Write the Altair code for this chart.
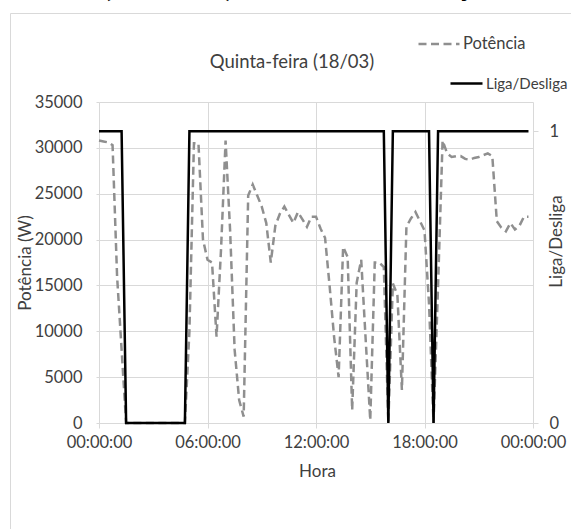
import altair as alt
import pandas as pd

# 15-minute samples over the day (hours)
hours = [i * 0.25 for i in range(96)]

potencia = [
    30800, 30700, 30600, 30300, 16000, 8000, 0, 0,
    0, 0, 0, 0, 0, 0, 0, 0,
    0, 0, 0, 0, 10000, 30500, 30500, 20000,
    17800, 17500, 9400, 19000, 30800, 21000, 8000, 2500,
    700, 24800, 26000, 24800, 23600, 21800, 17500, 21500,
    22800, 23600, 22700, 21800, 23000, 22200, 21400, 22500,
    22500, 21200, 20200, 15000, 9400, 5000, 19200, 18100,
    1400, 15300, 17800, 9000, 300, 17500, 17500, 17000,
    0, 15200, 14000, 3600, 21400, 22300, 23000, 22000,
    21000, 13000, 0, 15000, 30800, 29400, 29000, 29100,
    29100, 28800, 28700, 28900, 29000, 29200, 29400, 29100,
    22000, 21300, 20900, 21800, 21100, 21500, 22500, 22500,
]

liga = [
    1, 1, 1, 1, 1, 1, 0, 0,
    0, 0, 0, 0, 0, 0, 0, 0,
    0, 0, 0, 0, 1, 1, 1, 1,
    1, 1, 1, 1, 1, 1, 1, 1,
    1, 1, 1, 1, 1, 1, 1, 1,
    1, 1, 1, 1, 1, 1, 1, 1,
    1, 1, 1, 1, 1, 1, 1, 1,
    1, 1, 1, 1, 1, 1, 1, 1,
    0, 1, 1, 1, 1, 1, 1, 1,
    1, 1, 0, 1, 1, 1, 1, 1,
    1, 1, 1, 1, 1, 1, 1, 1,
    1, 1, 1, 1, 1, 1, 1, 1,
]

x_ticks = [0, 6, 12, 18, 24]
y_ticks = [0, 5000, 10000, 15000, 20000, 25000, 30000, 35000]
y2_ticks = [0, 1]

chart_title = "Quinta-feira (18/03)"
header_text = "(Sistema A) Potência e Comutação"
series_p = "Potência"
series_l = "Liga/Desliga"

df = pd.DataFrame({
    "hora": hours,
    "potencia": potencia,
    "liga": liga,
    "serie_p": series_p,
    "serie_l": series_l,
})

FONT = "Lato"
TXT = "#404040"
GRID = "#d9d9d9"
W, H = 434, 321

base = alt.Chart(df)

frame = alt.Chart(alt.Data(values=[{}])).mark_rect(
    fillOpacity=0, stroke=GRID, strokeWidth=1
).encode(
    x=alt.value(-88.5), x2=alt.value(480), y=alt.value(-88.5), y2=alt.value(440)
)

header = alt.Chart(alt.Data(values=[{"t": header_text}])).mark_text(
    align="left", baseline="alphabetic", font=FONT, fontWeight="bold",
    fontSize=26, color="#000000"
).encode(x=alt.value(5), y=alt.value(-105), text="t:N")

title = alt.Chart(alt.Data(values=[{"t": chart_title}])).mark_text(
    align="center", baseline="middle", font=FONT, fontSize=18.5, color=TXT
).encode(x=alt.value(193), y=alt.value(-40), text="t:N")

pot = base.mark_line(strokeWidth=2.5, strokeDash=[8, 4.5]).encode(
    x=alt.X(
        "hora:Q",
        scale=alt.Scale(domain=[0, 24], nice=False, zero=False),
        axis=alt.Axis(
            values=x_ticks,
            labelExpr="(datum.value % 24 < 10 ? '0' : '') + (datum.value % 24) + ':00:00'",
            title="Hora", grid=True, domain=True, ticks=True, tickSize=5,
            labelPadding=6, labelFlush=False, labelOverlap=False,
            titleX=218, titleY=48, titleBaseline="middle", titleAlign="center",
        ),
    ),
    y=alt.Y(
        "potencia:Q",
        scale=alt.Scale(domain=[0, 35000], nice=False),
        axis=alt.Axis(
            values=y_ticks, format="d", title="Potência (W)", grid=True,
            domain=False, ticks=True, tickSize=3, labelPadding=14,
            labelFlush=False, labelOverlap=False,
            titleAngle=270, titleX=-73.5, titleY=H / 2, titleBaseline="middle",
            titleAlign="center",
        ),
    ),
    color=alt.Color(
        "serie_p:N",
        scale=alt.Scale(domain=[series_p], range=["#8f8f8f"]),
        legend=alt.Legend(
            title=None, orient="none", legendX=318, legendY=-80, padding=0,
            symbolType="stroke", symbolDash=[8, 4.5], symbolStrokeWidth=2.5,
            symbolSize=1681, labelFont=FONT, labelFontSize=16.5, labelColor=TXT,
            labelOffset=2,
        ),
    ),
)

lig = base.mark_line(strokeWidth=2.5).encode(
    x=alt.X("hora:Q"),
    y=alt.Y(
        "liga:Q",
        scale=alt.Scale(domain=[0, 1.1], nice=False),
        axis=alt.Axis(
            orient="right", values=y2_ticks, format="d", title="Liga/Desliga",
            grid=False, domain=False, ticks=True, tickSize=5, labelPadding=11,
            labelFlush=False, labelOverlap=False,
            titleAngle=270, titleX=23.7, titleY=139, titleBaseline="middle",
            titleAlign="center",
        ),
    ),
    color=alt.Color(
        "serie_l:N",
        scale=alt.Scale(domain=[series_l], range=["#000000"]),
        legend=alt.Legend(
            title=None, orient="none", legendX=350, legendY=-36, padding=0,
            symbolType="stroke", symbolStrokeWidth=2.5, symbolSize=1024,
            labelFont=FONT, labelFontSize=15, labelColor=TXT, labelOffset=2,
        ),
    ),
)

chart = alt.layer(frame, header, title, pot, lig).resolve_scale(
    y="independent", color="independent"
).properties(
    width=W, height=H, autosize=alt.AutoSizeParams(type="none"),
    padding={"left": 99, "top": 102, "right": 38, "bottom": 106},
    background="white",
).configure_view(strokeWidth=0).configure_axis(
    labelFont=FONT, titleFont=FONT, labelColor=TXT, titleColor=TXT,
    gridColor=GRID, domainColor=GRID, tickColor=GRID, labelFontSize=16.5,
    titleFontSize=17, titleFontWeight="normal", gridWidth=1,
)

chart.save("out.html", embed_options={"renderer": "svg", "actions": False})
